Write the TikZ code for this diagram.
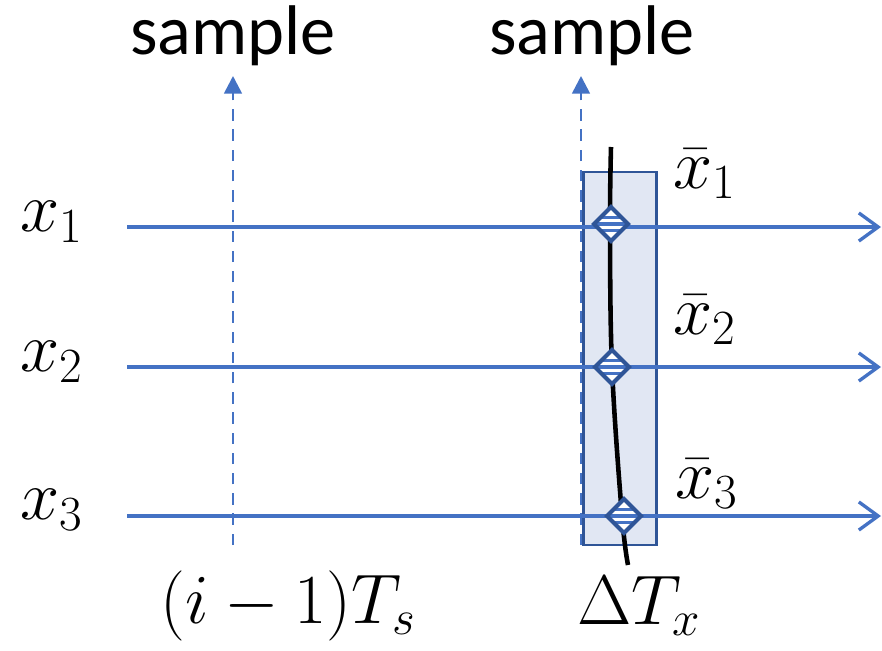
\RequirePackage{fix-cm}
\documentclass[tikz,border=0pt]{standalone}
\usepackage{fontspec}
\newfontfamily\samplefont{Carlito}
\usetikzlibrary{arrows.meta}
\definecolor{lineblue}{HTML}{4472C4}
\definecolor{darkblue}{HTML}{2F5597}
\definecolor{boxfill}{HTML}{E1E7F3}
\tikzset{
  signal/.style={lineblue, line width=1.9pt, -{Straight Barb[length=11pt,width=16pt,line width=1.9pt]}},
  samplearrow/.style={lineblue, line width=1.5pt, dash pattern=on 6.5pt off 5pt, -{Triangle[length=10pt,width=10pt]}},
  samplelabel/.style={font=\samplefont\fontsize{40}{44}\selectfont, inner sep=0pt},
  mathlabel/.style={font=\fontsize{40}{44}\selectfont, inner sep=0pt},
  windowbox/.style={draw=darkblue, fill=boxfill, line width=1.7pt},
  pics/marker/.style={code={
    \path[fill=white] (0,-17) -- (17,0) -- (0,17) -- (-17,0) -- cycle;
    \begin{scope}
      \clip (0,-17) -- (17,0) -- (0,17) -- (-17,0) -- cycle;
      \foreach \yy in {-6.5,0,6.5} \draw[lineblue, line width=2.2pt] (-17,\yy) -- (17,\yy);
    \end{scope}
    \draw[darkblue, line width=2.4pt, line join=miter] (0,-17) -- (17,0) -- (0,17) -- (-17,0) -- cycle;
  }}
}
\begin{document}
\begin{tikzpicture}[x=0.02cm, y=-0.02cm]
\useasboundingbox (0,0) rectangle (882,651);
% window box
\draw[windowbox] (583,172) rectangle (656,545);
% sample arrows
\coordinate (s1b) at (233,545);
\coordinate (s1t) at (233,76);
\coordinate (s2b) at (581,545);
\coordinate (s2t) at (581,76);
\draw[samplearrow] (s1b) -- (s1t);
\draw[samplearrow] (s2b) -- (s2t);
% signals
\foreach \n/\yy in {1/227,2/367,3/516}{
  \coordinate (a\n) at (127,\yy);
  \coordinate (b\n) at (881,\yy);
  \draw[signal] (a\n) -- (b\n);
}
% curve
\draw[black, line width=2.6pt] plot[smooth, tension=0.6] coordinates {(611,147) (610,227) (612,367) (622,516) (628,565)};
% markers
\pic at (611,224) {marker};
\pic at (612,367) {marker};
\pic at (624,516) {marker};
% labels
\node[samplelabel] (lab1) at (233,36) {sample};
\node[samplelabel] (lab2) at (592,36) {sample};
\node[mathlabel] (x1) at (52,222) {$x_1$};
\node[mathlabel] (x2) at (52,362) {$x_2$};
\node[mathlabel] (x3) at (52,510) {$x_3$};
\node[mathlabel] (xb1) at (705,174) {$\bar{x}_1$};
\node[mathlabel] (xb2) at (705,320) {$\bar{x}_2$};
\node[mathlabel] (xb3) at (707,484) {$\bar{x}_3$};
\node[mathlabel] (ts) at (288,606) {$(i-1)T_s$};
\node[mathlabel] (dt) at (639,606) {$\Delta T_x$};
\end{tikzpicture}
\end{document}
